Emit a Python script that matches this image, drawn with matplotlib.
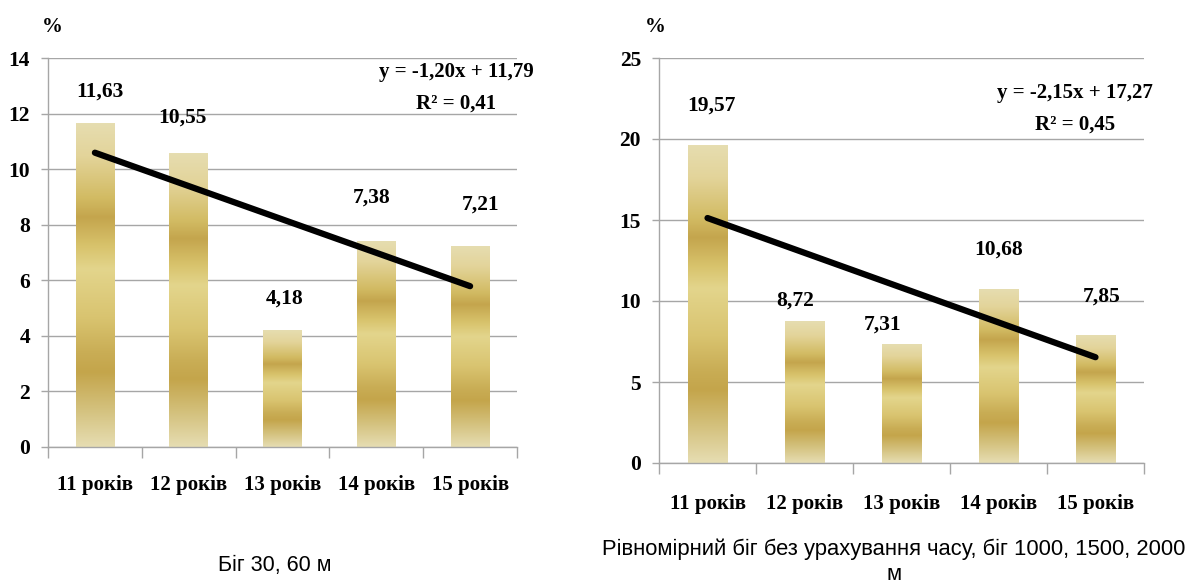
import numpy as np
import matplotlib
matplotlib.use("Agg")
import matplotlib.pyplot as plt
from matplotlib.colors import LinearSegmentedColormap

# ---- data ----
categories = ["11 років", "12 років", "13 років", "14 років", "15 років"]
sprint_values = [11.63, 10.55, 4.18, 7.38, 7.21]
endurance_values = [19.57, 8.72, 7.31, 10.68, 7.85]
sprint_title = "Біг 30, 60 м"
endurance_title = "Рівномірний біг без урахування часу, біг 1000, 1500, 2000\nм"
sprint_yticks = [0, 2, 4, 6, 8, 10, 12, 14]
endurance_yticks = [0, 5, 10, 15, 20, 25]

# label nudges (pixels: dx, dy above bar top)
sprint_label_nudge = [(5, 32), (-6, 36), (2, 32), (-5, 44), (10, 42)]
endurance_label_nudge = [(4, 40), (-9, 21), (-19, 20), (0, 40), (6, 39)]

SERIF = "Liberation Serif"
SANS = "Liberation Sans"
GRID = "#a6a6a6"

W, H = 1187, 587
fig = plt.figure(figsize=(W / 100, H / 100), dpi=100)

gold = LinearSegmentedColormap.from_list(
    "gold",
    [(0.00, "#e6ddb0"), (0.10, "#e3d49a"), (0.23, "#d2bb63"), (0.29, "#c4a54d"),
     (0.38, "#d8c36c"), (0.45, "#e3d58c"), (0.60, "#d9c470"), (0.71, "#c9ad55"),
     (0.77, "#c4a54b"), (0.88, "#d3c07b"), (1.00, "#e6ddb2")])
grad = np.linspace(0, 1, 256).reshape(-1, 1)


def px_axes(x0, y0, x1, y1):
    return fig.add_axes([x0 / W, 1 - y1 / H, (x1 - x0) / W, (y1 - y0) / H])


def fmt(v):
    return f"{v:.2f}".replace(".", ",")


def draw_panel(ax, values, yticks, nudges, xlabel_pad):
    n = len(values)
    x = np.arange(1, n + 1)
    width = 0.41
    bars = ax.bar(x, values, width=width, color="none", edgecolor="none", zorder=2)
    for b in bars:
        x0, w, h = b.get_x(), b.get_width(), b.get_height()
        ax.imshow(grad, cmap=gold, aspect="auto", extent=[x0, x0 + w, 0, h],
                  origin="upper", zorder=2, interpolation="bilinear")
    ax.set_xlim(0.5, n + 0.5)
    ax.set_ylim(yticks[0], yticks[-1])
    ax.set_yticks(yticks)
    ax.set_yticklabels([str(t) for t in yticks], fontfamily=SERIF,
                       fontweight="bold", fontsize=15.5)
    ax.yaxis.grid(True, color=GRID, lw=1.0, zorder=0)
    ax.set_axisbelow(True)
    ax.tick_params(axis="y", length=5, width=1, color=GRID, pad=8)

    ax.set_xticks(np.arange(0.5, n + 1.0, 1.0))
    ax.set_xticklabels([])
    ax.set_xticks(x, minor=True)
    ax.set_xticklabels(categories, minor=True, fontfamily=SERIF,
                       fontweight="bold", fontsize=15)
    ax.tick_params(axis="x", which="major", length=8, width=1, color=GRID)
    ax.tick_params(axis="x", which="minor", length=0, pad=xlabel_pad)

    for s in ("top", "right"):
        ax.spines[s].set_visible(False)
    for s in ("left", "bottom"):
        ax.spines[s].set_color(GRID)
        ax.spines[s].set_linewidth(1.0)

    for xi, v, (dx, dy) in zip(x, values, nudges):
        ax.annotate(fmt(v), (xi, v), xytext=(dx * 0.72, dy * 0.72),
                    textcoords="offset points", ha="center", va="center",
                    fontfamily=SERIF, fontweight="bold", fontsize=15.5, zorder=5)

    slope, intercept = np.polyfit(x, values, 1)
    fit = slope * x + intercept
    ss_res = np.sum((np.array(values) - fit) ** 2)
    ss_tot = np.sum((np.array(values) - np.mean(values)) ** 2)
    r2 = 1 - ss_res / ss_tot
    ax.plot([x[0], x[-1]], [fit[0], fit[-1]], color="black", lw=4.5,
            solid_capstyle="round", zorder=4)
    return slope, intercept, r2


def equation_text(slope, intercept, r2, cx, y1, y2):
    sign = "+" if intercept >= 0 else "-"
    eq = f"y = {fmt(slope)}x {sign} {fmt(abs(intercept))}"
    fig.text(cx / W, 1 - y1 / H, eq, ha="center", va="center",
             fontfamily=SERIF, fontweight="bold", fontsize=15)
    fig.text(cx / W, 1 - y2 / H, f"R² = {fmt(r2)}", ha="center", va="center",
             fontfamily=SERIF, fontweight="bold", fontsize=15)


# left panel
ax1 = px_axes(48, 58, 517, 447)
s1, i1, r1 = draw_panel(ax1, sprint_values, sprint_yticks, sprint_label_nudge, 20)
equation_text(s1, i1, r1, 456, 72, 104)
fig.text(52 / W, 1 - 27 / H, "%", ha="center", va="center",
         fontfamily=SERIF, fontweight="bold", fontsize=15)
fig.text(275 / W, 1 - 566 / H, sprint_title, ha="center", va="center",
         fontfamily=SANS, fontsize=15.5)

# right panel
ax2 = px_axes(659, 58, 1144, 463)
s2, i2, r2 = draw_panel(ax2, endurance_values, endurance_yticks, endurance_label_nudge, 22)
equation_text(s2, i2, r2, 1075, 93, 125)
fig.text(655 / W, 1 - 27 / H, "%", ha="center", va="center",
         fontfamily=SERIF, fontweight="bold", fontsize=15)
fig.text(894 / W, 1 - 539 / H, endurance_title, ha="center", va="top",
         fontfamily=SANS, fontsize=15.8, linespacing=1.2)

fig.savefig("out.png", dpi=100, facecolor="white")
